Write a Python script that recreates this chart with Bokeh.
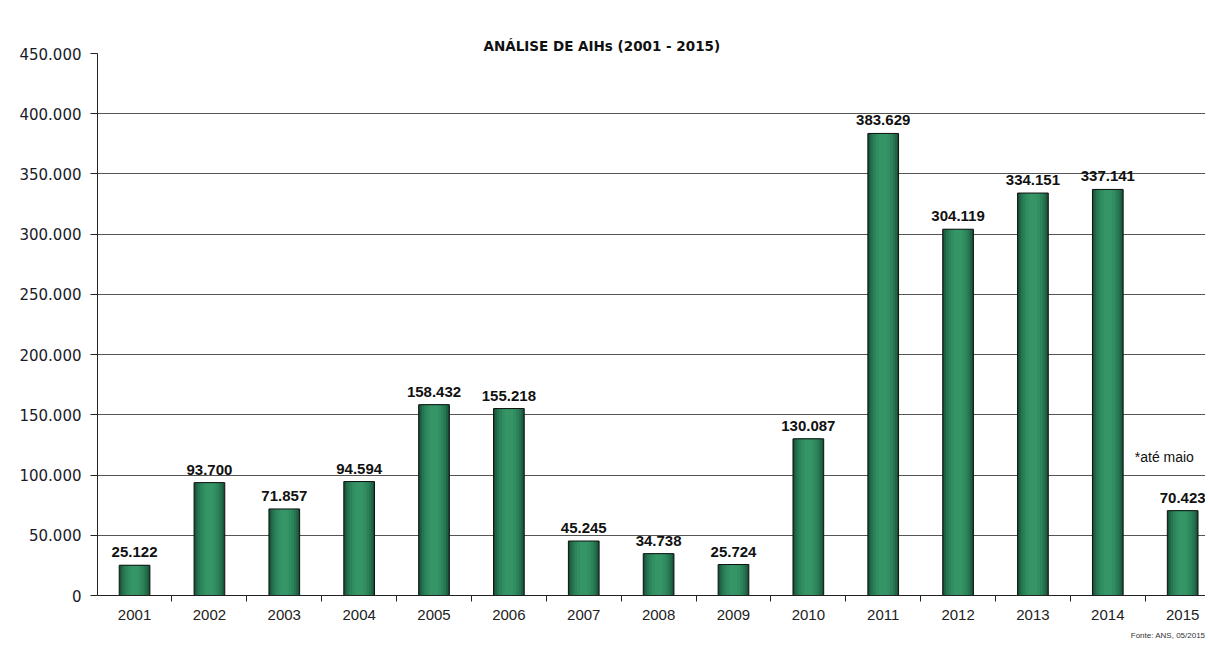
from bokeh.plotting import figure
from bokeh.models import FixedTicker, Label, Range1d, ColumnDataSource, Title
from bokeh.core.properties import value
from bokeh.embed import file_html
from bokeh.resources import INLINE

years = list(range(2001, 2016))
values = [25122, 93700, 71857, 94594, 158432, 155218, 45245, 34738, 25724,
          130087, 383629, 304119, 334151, 337141, 70423]
value_labels = ["25.122", "93.700", "71.857", "94.594", "158.432", "155.218", "45.245",
                "34.738", "25.724", "130.087", "383.629", "304.119", "334.151",
                "337.141", "70.423"]
y_ticks = [0, 50000, 100000, 150000, 200000, 250000, 300000, 350000, 400000, 450000]
y_tick_labels = ["0", "50.000", "100.000", "150.000", "200.000", "250.000",
                 "300.000", "350.000", "400.000", "450.000"]
title_text = "ANÁLISE DE AIHs (2001 - 2015)"
note_text = "*até maio"
source_text = "Fonte: ANS, 05/2015"

src = ColumnDataSource(dict(x=years, top=values, lbl=value_labels))

p = figure(width=1205, height=646, output_backend="svg", toolbar_location=None,
           x_range=Range1d(2000.505, 2015.305), y_range=Range1d(0, 450000),
           min_border_left=97, min_border_right=0, min_border_top=53,
           min_border_bottom=51)
p.outline_line_color = None
p.background_fill_color = "white"
p.border_fill_color = "white"

# bars with a horizontal gradient imitation
widths = [0.41, 0.37, 0.32, 0.26, 0.19, 0.11]
shades = ["#174d33", "#1f6444", "#267552", "#2c8359", "#318e61", "#359566"]
for w, c in zip(widths, shades):
    p.vbar(x="x", top="top", bottom=0, width=w, source=src, fill_color=c,
           line_color=None)
p.vbar(x="x", top="top", bottom=0, width=0.41, source=src, fill_color=None,
       line_color="#111111", line_width=1)

p.text(x="x", y="top", text="lbl", source=src, text_align="center",
       text_baseline="bottom", y_offset=-8, text_font=value("Liberation Sans"),
       text_font_style="bold", text_font_size="15px", text_color="#111111")

# axes
p.xaxis.ticker = FixedTicker(ticks=years,
                             minor_ticks=[y + 0.5 for y in years[:-1]] + [2000.5])
p.xaxis.major_tick_line_color = None
p.xaxis.minor_tick_line_color = "#222222"
p.xaxis.minor_tick_out = 6
p.xaxis.minor_tick_in = 0
p.xaxis.axis_line_color = "#222222"
p.xaxis.major_label_text_font = "Liberation Sans"
p.xaxis.major_label_text_font_size = "15px"
p.xaxis.major_label_text_color = "#222222"
p.xaxis.major_label_standoff = 8

p.yaxis.ticker = FixedTicker(ticks=y_ticks, minor_ticks=[])
p.yaxis.major_label_overrides = {t: l for t, l in zip(y_ticks, y_tick_labels)}
p.yaxis.major_tick_out = 7
p.yaxis.major_tick_in = 0
p.yaxis.major_tick_line_color = "#222222"
p.yaxis.axis_line_color = "#222222"
p.yaxis.major_label_text_font = "DejaVu Sans"
p.yaxis.major_label_text_font_size = "15px"
p.yaxis.major_label_text_color = "#1a1a2a"
p.yaxis.major_label_standoff = 9

p.xgrid.grid_line_color = None
p.ygrid.grid_line_color = "#555555"
p.ygrid.grid_line_width = 1

p.add_layout(Title(text=title_text, align="left", offset=386, standoff=0,
                   text_font="DejaVu Sans", text_font_style="bold",
                   text_font_size="13.5px", text_color="#111111"), "above")
# empty spacer between title and frame, to lift the title
p.add_layout(Title(text=" ", standoff=0, text_font_size="10px"), "above")
p.add_layout(Title(text=source_text, align="right", offset=0, standoff=12,
                   text_font="Liberation Sans", text_font_style="normal",
                   text_font_size="8px", text_color="#333333"), "below")
p.add_layout(Label(x=2014.36, y=115000, text=note_text, text_align="left",
                   text_baseline="middle", text_font="Liberation Sans",
                   text_font_size="14px", text_color="#111111"))

open("out.html", "w").write(file_html(p, INLINE))
